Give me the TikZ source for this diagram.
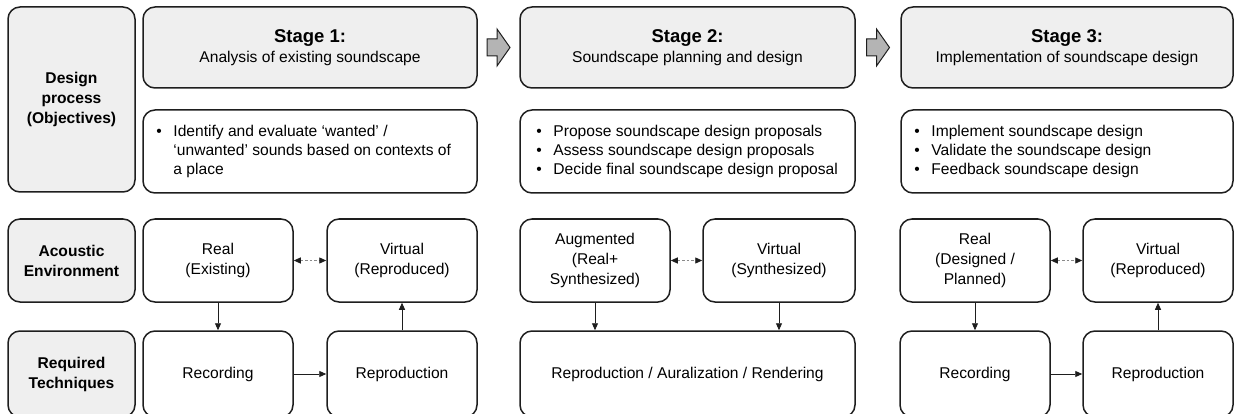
\documentclass[tikz,border=0pt]{standalone}
\usepackage{fontspec}
\setmainfont{Liberation Sans}
\usetikzlibrary{arrows.meta,calc}
\definecolor{boxgray}{HTML}{EFEFEF}
\definecolor{edge}{HTML}{1E1E1E}
\definecolor{arrowgray}{HTML}{B4B4B4}
\definecolor{dashgray}{HTML}{8A8A8A}
\newcommand{\bul}{\makebox[17pt][l]{\textbullet}}
\begin{document}
\begin{tikzpicture}[x=1pt,y=-1pt,
  base/.style={draw=edge, line width=1.5pt, rounded corners=12pt, align=center,
    inner sep=0pt, font=\fontsize{15.6}{20}\selectfont},
  graybox/.style={base, fill=boxgray},
  whitebox/.style={base, fill=white},
  lbl/.style={graybox, font=\fontsize{15.6}{20}\selectfont\bfseries},
  bullets/.style={anchor=west, inner sep=0pt, font=\fontsize{15.6}{19}\selectfont},
  link/.style={draw=edge, line width=0.9pt, -{Triangle[length=7pt,width=6pt]}},
  dlink/.style={draw=dashgray, line width=0.9pt, dash pattern=on 2.5pt off 2pt,
    {Triangle[length=7pt,width=6pt,color=edge]}-{Triangle[length=7pt,width=6pt,color=edge]}},
  blockarrow/.style={draw=edge, line width=1pt, fill=arrowgray, line join=miter},
]
\useasboundingbox (0,0) rectangle (1239,414);

% row labels
\node[lbl, minimum width=127pt, minimum height=185pt] (dp) at (71.5,99.5)
  {Design\\process\\(Objectives)};
\node[lbl, minimum width=127pt, minimum height=83pt] (ae) at (71.5,260.5)
  {Acoustic\\Environment};
\node[lbl, minimum width=127pt, minimum height=86pt] (rt) at (71.5,374)
  {Required\\Techniques};

% stage headers
\node[graybox, minimum width=334pt, minimum height=81pt] (s1) at (310,47.5)
  {\textbf{\fontsize{18.5}{20}\selectfont Stage 1:}\\Analysis of existing soundscape};
\node[graybox, minimum width=335pt, minimum height=81pt] (s2) at (687.5,47.5)
  {\textbf{\fontsize{18.5}{20}\selectfont Stage 2:}\\Soundscape planning and design};
\node[graybox, minimum width=332pt, minimum height=81pt] (s3) at (1067,47.5)
  {\textbf{\fontsize{18.5}{20}\selectfont Stage 3:}\\Implementation of soundscape design};

% objectives
\node[whitebox, minimum width=334pt, minimum height=83pt] (b1) at (310,151.5) {};
\node[whitebox, minimum width=335pt, minimum height=83pt] (b2) at (687.5,151.5) {};
\node[whitebox, minimum width=332pt, minimum height=83pt] (b3) at (1067,151.5) {};
\node[bullets] (t1) at ($(b1.west)+(14,0)$) {%
  \begin{tabular}{@{}l@{}l@{}}
  \bul & Identify and evaluate ‘wanted’ /\\
       & ‘unwanted’ sounds based on contexts of\\
       & a place
  \end{tabular}};
\node[bullets] (t2) at ($(b2.west)+(17,0)$) {%
  \begin{tabular}{@{}l@{}l@{}}
  \bul & Propose soundscape design proposals\\
  \bul & Assess soundscape design proposals\\
  \bul & Decide final soundscape design proposal
  \end{tabular}};
\node[bullets] (t3) at ($(b3.west)+(14,0)$) {%
  \begin{tabular}{@{}l@{}l@{}}
  \bul & Implement soundscape design\\
  \bul & Validate the soundscape design\\
  \bul & Feedback soundscape design
  \end{tabular}};

% stage 1 environments and techniques
\node[whitebox, minimum width=150pt, minimum height=83pt] (r1) at (218,260.5) {Real\\(Existing)};
\node[whitebox, minimum width=150pt, minimum height=83pt] (v1) at (402,260.5) {Virtual\\(Reproduced)};
\node[whitebox, minimum width=150pt, minimum height=86pt] (rec1) at (218,374) {Recording};
\node[whitebox, minimum width=150pt, minimum height=86pt] (rep1) at (402,374) {Reproduction};

% stage 2
\node[whitebox, minimum width=150pt, minimum height=83pt] (aug) at (595,260.5) {Augmented\\(Real+\\Synthesized)};
\node[whitebox, minimum width=152pt, minimum height=83pt] (v2) at (779,260.5) {Virtual\\(Synthesized)};
\node[whitebox, minimum width=335pt, minimum height=86pt] (rar) at (687.5,374) {Reproduction / Auralization / Rendering};

% stage 3
\node[whitebox, minimum width=150pt, minimum height=83pt] (r3) at (975,260.5) {Real\\(Designed /\\Planned)};
\node[whitebox, minimum width=150pt, minimum height=83pt] (v3) at (1158,260.5) {Virtual\\(Reproduced)};
\node[whitebox, minimum width=150pt, minimum height=86pt] (rec3) at (975,374) {Recording};
\node[whitebox, minimum width=150pt, minimum height=86pt] (rep3) at (1158,374) {Reproduction};

% connectors
\draw[link] (r1) -- (rec1);
\draw[link] (rec1) -- (rep1);
\draw[link] (rep1) -- (v1);
\draw[dlink] (r1) -- (v1);

\draw[link] (aug) -- (aug |- rar.north);
\draw[link] (v2) -- (v2 |- rar.north);
\draw[dlink] (aug) -- (v2);

\draw[link] (r3) -- (rec3);
\draw[link] (rec3) -- (rep3);
\draw[link] (rep3) -- (v3);
\draw[dlink] (r3) -- (v3);

% block arrows between stages
\coordinate (g1) at ($(s1.east)!0.5!(s2.west)$);
\coordinate (g2) at ($(s2.east)!0.5!(s3.west)$);
\foreach \g in {g1,g2}{
  \draw[blockarrow, shift={(\g)}] (-11.5,-8.5) -- (-1.5,-8.5) -- (-1.5,-18.5)
    -- (11.5,0) -- (-1.5,18.5) -- (-1.5,8.5) -- (-11.5,8.5) -- cycle;
}
\end{tikzpicture}
\end{document}
